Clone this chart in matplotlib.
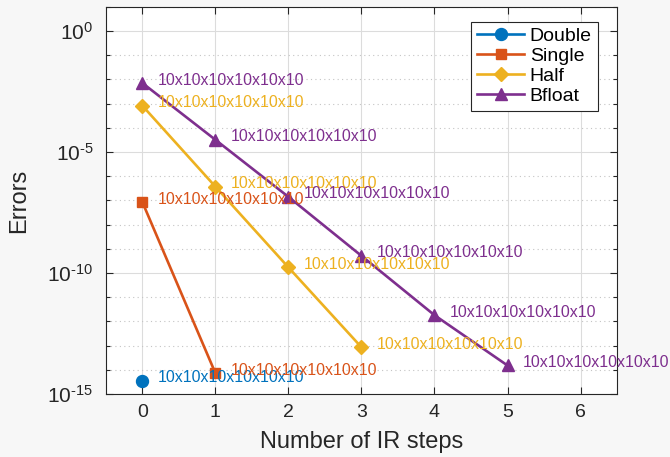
import numpy as np
import matplotlib
matplotlib.use('Agg')
import matplotlib.pyplot as plt
from matplotlib.ticker import FixedLocator, NullFormatter

plt.rcParams['font.family'] = ['Liberation Sans', 'DejaVu Sans']
plt.rcParams['mathtext.fontset'] = 'custom'
plt.rcParams['mathtext.rm'] = 'Liberation Sans'
plt.rcParams['mathtext.it'] = 'Liberation Sans:italic'

# data
names = ['Double', 'Single', 'Half', 'Bfloat']
steps_double = [0]
err_double = [3.5e-15]
steps_single = [0, 1]
err_single = [8.5e-8, 7.2e-15]
steps_half = [0, 1, 2, 3]
err_half = [8.2e-4, 3.7e-7, 1.7e-10, 8.5e-14]
steps_bfloat = [0, 1, 2, 3, 4, 5]
err_bfloat = [7.1e-3, 3.2e-5, 1.4e-7, 5.1e-10, 1.8e-12, 1.5e-14]
point_label = '10x10x10x10x10x10'
ytick_vals = [1e-15, 1e-10, 1e-5, 1e0]
ytick_text = [r'$10^{\text{-}15}$', r'$10^{\text{-}10}$', r'$10^{\text{-}5}$', '$10^{0}$']

colors = ['#0072BD', '#D95319', '#EDB120', '#7E2F8E']
markers = ['o', 's', 'D', '^']
msizes = [8.6, 7.2, 7.2, 8.5]
ink = '#262626'

fig = plt.figure(figsize=(6.7, 4.57), dpi=100, facecolor='#f7f7f7')
ax = fig.add_axes([0.158, 0.138, 0.763, 0.847])
ax.set_facecolor('white')

series = [(steps_double, err_double), (steps_single, err_single),
          (steps_half, err_half), (steps_bfloat, err_bfloat)]
for (xs, ys), name, c, m, ms in zip(series, names, colors, markers, msizes):
    ax.plot(xs, ys, color=c, marker=m, markersize=ms, linewidth=1.9, label=name, zorder=3)
    for x, y in zip(xs, ys):
        ax.annotate(point_label, (x, y), xytext=(15, 3),
                    textcoords='offset pixels', color=c, fontsize=11.4,
                    va='center', ha='left', zorder=4)

ax.set_yscale('log')
ax.set_xlim(-0.5, 6.5)
ax.set_ylim(1e-15, 1e1)
ax.set_xticks(range(7))
ax.yaxis.set_major_locator(FixedLocator(ytick_vals))
ax.set_yticklabels(ytick_text)
ax.yaxis.set_minor_locator(FixedLocator([10.0 ** k for k in range(-15, 2)]))
ax.yaxis.set_minor_formatter(NullFormatter())

ax.grid(True, which='major', color='#dcdcdc', linewidth=0.8, linestyle='-')
ax.grid(True, which='minor', axis='y', color='#c4c4c4', linewidth=0.8, linestyle=(0, (1, 3)))
ax.set_axisbelow(True)

ax.tick_params(which='both', direction='in', top=True, right=True, colors=ink,
               length=5, width=0.8)
ax.tick_params(axis='x', labelsize=14, pad=7)
ax.tick_params(axis='y', labelsize=15, pad=9)
ax.tick_params(which='minor', length=3)
for s in ax.spines.values():
    s.set_color(ink)
    s.set_linewidth(0.8)

ax.set_xlabel('Number of IR steps', fontsize=17, color=ink)
ax.set_ylabel('Errors', fontsize=17, color=ink)
ax.xaxis.set_label_coords(0.5, -0.096)
ax.yaxis.set_label_coords(-0.148, 0.5)

leg = ax.legend(loc='upper right', bbox_to_anchor=(0.962, 0.962), borderaxespad=0,
                fontsize=14, fancybox=False, framealpha=1, edgecolor=ink,
                handlelength=2.4, handletextpad=0.3, borderpad=0.3, labelspacing=0.12)
leg.get_frame().set_linewidth(0.8)

fig.savefig('out.png', dpi=100, facecolor=fig.get_facecolor())
